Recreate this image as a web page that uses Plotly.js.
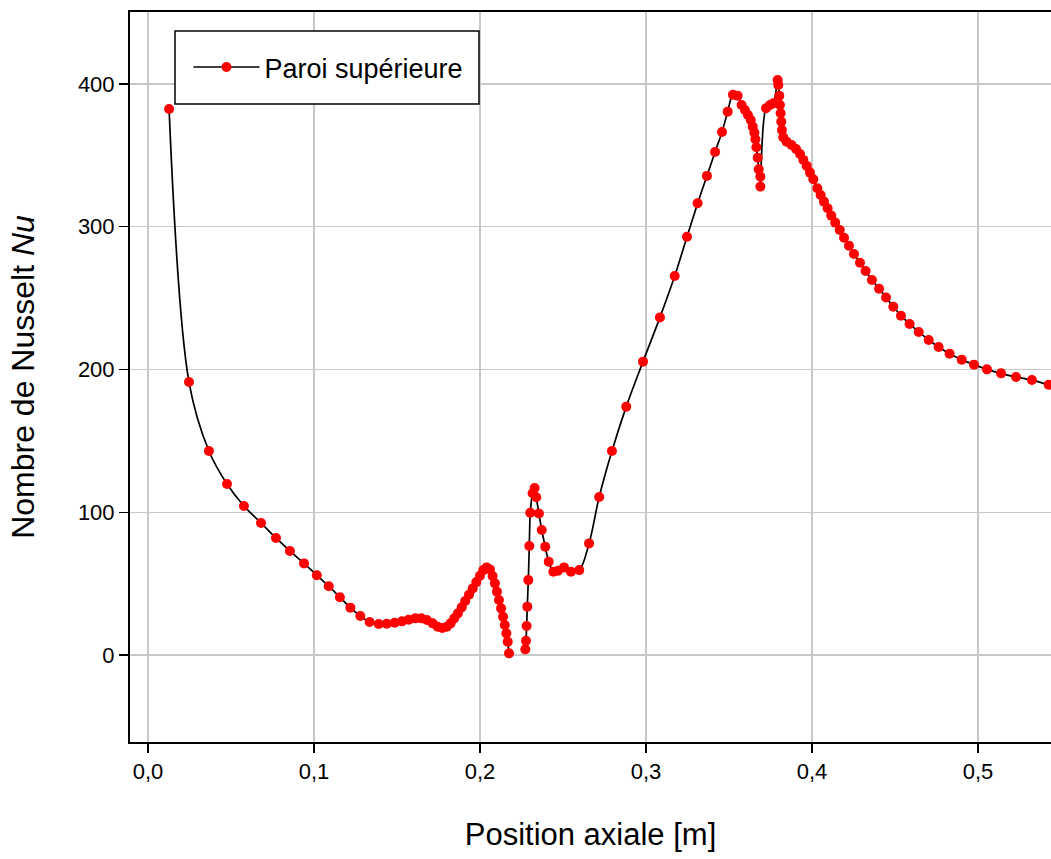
<!DOCTYPE html>
<html>
<head>
<meta charset="utf-8">
<script src="https://cdn.plot.ly/plotly-3.0.1.min.js"></script>
<style>html,body{margin:0;padding:0;background:#fff;}#chart{width:1051px;height:859px;}</style>
</head>
<body>
<div id="chart"></div>
<script>
// Axial position [m] (null = gap in the curve)
const position = [0.0127,0.0247,0.0367,0.0476,0.0578,0.0681,0.0771,0.0855,0.094,0.1017,0.1089,0.1156,0.1219,0.1279,0.1335,0.139,0.1438,0.1486,0.153,0.157,0.161,0.1647,0.168,0.1715,0.1745,0.1773,
0.180,0.1823,0.1845,0.1867,0.189,0.1911,0.1934,0.1956,0.1978,0.2,0.202,0.204,0.206,0.2076,0.209,0.2102,0.2114,0.2127,0.2139,0.2149,0.2159,0.2167,0.2175,
null,
0.2273,0.2277,0.2281,0.2285,0.2291,0.2297,0.2303,0.2317,0.2329,0.2339,0.2355,0.2372,0.2393,0.2414,0.2442,0.247,0.2506,0.2548,0.2598,0.2657,0.2718,
0.2795,0.2881,0.2982,0.3084,0.3173,0.3247,0.3311,0.3367,0.3416,0.3458,0.3492,0.3524,0.3552,0.3576,0.3596,0.3614,0.3631,0.3643,0.3653,0.3659,0.3665,0.3673,0.3679,0.3689,0.3689,
0.3723,0.3747,0.3767,0.3793,0.3797,0.3803,0.3807,0.3811,0.3815,0.3819,0.3827,0.3847,0.3877,0.3904,0.3928,0.3948,0.3968,0.3988,0.4008,0.4032,0.4052,0.4072,0.4094,0.4116,0.414,0.4167,0.4193,0.4223,0.4253,0.4289,0.4323,0.4361,0.4404,0.4446,0.449,0.4536,0.4588,0.4643,0.4703,0.4763,0.4829,0.4902,0.4976,0.5054,0.5139,0.5229,0.5325,0.5426];
// Nusselt number, upper wall
const nusselt = [382.5,191.2,142.9,119.8,104.4,92.5,82,72.9,64.2,55.9,48.2,40.5,33.2,27.3,23.1,21.7,21.9,22.6,23.6,24.7,25.7,25.7,24.5,22.2,19.8,18.9,
19.8,22.2,25.7,29.2,33.4,37.8,42.3,46.7,51.1,55.6,59.5,61.4,60,55.3,50.2,44.4,38.5,32.7,26.8,21,15.2,9.3,1.2,
null,
4,10,20.3,33.9,52.5,76.4,99.7,113.3,117,110.5,99.2,87.6,75.9,65.4,58.4,59.1,61.4,58.4,59.5,78.2,110.7,
142.9,174,205.5,236.5,265.5,293,316.4,335.6,352.4,366.4,380.6,392.5,391.8,385.3,381.8,378.3,374.8,370.1,365.9,361.3,355.7,348.4,340.2,335.1,328.1,
383,385.3,386.4,402.8,399.3,391.8,385.3,379.5,373.6,367.8,362.6,359.6,357.3,354.5,351,346.8,342.6,337.9,333.2,326.9,322.2,317.6,312.9,307.8,302.9,297.7,292.3,286.7,280.9,274.8,269,262.7,256.6,250.4,244,237.7,231.9,226.3,220.7,215.8,211.1,206.9,203.4,200.1,197.3,194.7,192.6,189.3];
const seriesName = 'Paroi supérieure';
const xTitle = 'Position axiale [m]';
const yTitle = 'Nombre de Nusselt <i>Nu</i>';

const FONT = 'Liberation Sans, Arial, sans-serif';

const trace = {
  x: position, y: nusselt, name: seriesName,
  type: 'scatter', mode: 'lines+markers',
  connectgaps: false,
  line: {color: '#000000', width: 1.7, shape: 'spline', smoothing: 1},
  marker: {color: '#ff0000', size: 10},
  showlegend: true
};

const layout = {
  width: 1051, height: 859,
  margin: {l: 130, r: 0, t: 12, b: 117},
  paper_bgcolor: '#ffffff', plot_bgcolor: '#ffffff',
  separators: ', ',
  font: {family: FONT, color: '#000000', size: 24},
  showlegend: true,
  legend: {
    x: 0.0635, y: 0.9576, xanchor: 'left', yanchor: 'top',
    bgcolor: 'rgba(0,0,0,0)', borderwidth: 0,
    font: {family: FONT, size: 27, color: '#000000'},
    itemwidth: 66
  },
  shapes: [{
    type: 'rect', xref: 'paper', yref: 'paper',
    x0: 0.04886, x1: 0.37894, y0: 0.87397, y1: 0.97397,
    line: {color: '#000000', width: 1.5}, fillcolor: '#ffffff', layer: 'above'
  }],
  xaxis: {
    range: [-0.01084, 0.54398],
    tick0: 0, dtick: 0.1, tickformat: '.1f',
    ticks: 'outside', ticklen: 9, tickwidth: 1.5, tickcolor: '#000000',
    showline: true, linecolor: '#000000', linewidth: 2, mirror: true,
    showgrid: true, gridcolor: '#c8c8c8', gridwidth: 1.5,
    zeroline: false,
    tickfont: {family: FONT, size: 22},
    title: {text: xTitle, font: {family: FONT, size: 31}, standoff: 40},
    automargin: false
  },
  yaxis: {
    range: [-60.9, 450.4],
    tick0: 0, dtick: 100,
    ticks: 'outside', ticklen: 9, tickwidth: 1.5, tickcolor: '#000000',
    showline: true, linecolor: '#000000', linewidth: 2, mirror: false,
    showgrid: true, gridcolor: '#c8c8c8', gridwidth: 1.5,
    zeroline: false,
    tickfont: {family: FONT, size: 22},
    title: {text: yTitle, font: {family: FONT, size: 32}, standoff: 34},
    automargin: false
  }
};

Plotly.newPlot('chart', [trace], layout, {displayModeBar: false, staticPlot: true});
</script>
</body>
</html>
